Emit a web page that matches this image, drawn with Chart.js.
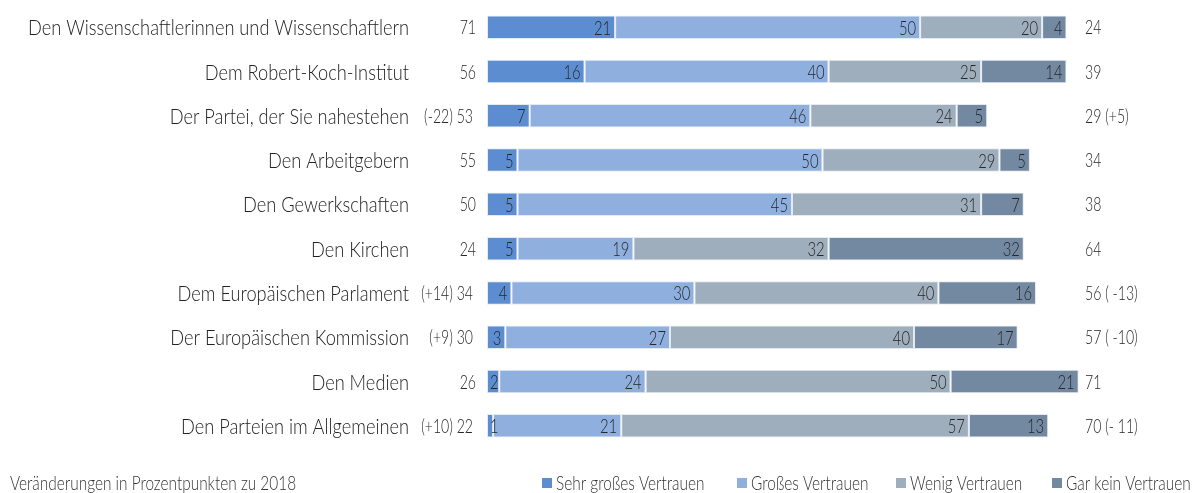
<!DOCTYPE html>
<html>
<head>
<meta charset="utf-8">
<script src="https://cdn.jsdelivr.net/npm/chart.js@4/dist/chart.umd.min.js"></script>
<style>
  html, body { margin: 0; padding: 0; background: #ffffff; }
  #wrap { width: 1197px; height: 493px; position: relative; }
</style>
</head>
<body>
<div id="wrap"><canvas id="c" width="1197" height="493"></canvas></div>
<script>
const categories = [
  "Den Wissenschaftlerinnen und Wissenschaftlern",
  "Dem Robert-Koch-Institut",
  "Der Partei, der Sie nahestehen",
  "Den Arbeitgebern",
  "Den Gewerkschaften",
  "Den Kirchen",
  "Dem Europäischen Parlament",
  "Der Europäischen Kommission",
  "Den Medien",
  "Den Parteien im Allgemeinen"
];
const seriesNames = ["Sehr großes Vertrauen", "Großes Vertrauen", "Wenig Vertrauen", "Gar kein Vertrauen"];
const sehrGross = [21, 16, 7, 5, 5, 5, 4, 3, 2, 1];
const gross     = [50, 40, 46, 50, 45, 19, 30, 27, 24, 21];
const wenig     = [20, 25, 24, 29, 31, 32, 40, 40, 50, 57];
const garKein   = [4, 14, 5, 5, 7, 32, 16, 17, 21, 13];
const leftTotals  = [71, 56, 53, 55, 50, 24, 34, 30, 26, 22];
const leftChange  = ["", "", "(-22)", "", "", "", "(+14)", "(+9)", "", "(+10)"];
const rightTotals = [24, 39, 29, 34, 38, 64, 56, 57, 71, 70];
const rightChange = ["", "", "(+5)", "", "", "", "( -13)", "( -10)", "", "(- 11)"];
const footnote = "Veränderungen in Prozentpunkten zu 2018";

const colors = ["#5d8dd1", "#8fafdf", "#9eaebd", "#7389a2"];
const FONTFAM = "Lato, 'DejaVu Sans Condensed', sans-serif";
const TXT = "#262626";

const seriesValues = [sehrGross, gross, wenig, garKein];

function font(size) { return "300 " + size + "px " + FONTFAM; }

const textPlugin = {
  id: 'textPlugin',
  afterDatasetsDraw(chart) {
    const ctx = chart.ctx;
    const xs = chart.scales.x, ys = chart.scales.y;
    ctx.save();
    function txt(t, x, y, align, sx) {
      const w = ctx.measureText(t).width * sx;
      let left = x;
      if (align === 'right') left = x - w;
      else if (align === 'center') left = x - w / 2;
      ctx.save();
      ctx.translate(left, y);
      ctx.scale(sx, 1);
      ctx.textAlign = 'left';
      ctx.textBaseline = 'middle';
      ctx.fillText(t, 0, 0);
      ctx.restore();
      return w;
    }
    const NSX = 0.74;  // narrow numerals
    const TSX = 0.77;  // footnote / legend
    // segment value labels
    ctx.font = font(20);
    ctx.fillStyle = TXT;
    categories.forEach((c, i) => {
      let cum = 0;
      const y = ys.getPixelForValue(i) + 1;
      seriesValues.forEach((vals) => {
        const v = vals[i];
        const start = xs.getPixelForValue(cum);
        cum += v;
        const end = xs.getPixelForValue(cum);
        const t = String(v);
        const w = ctx.measureText(t).width * NSX;
        const x = Math.max(end - 4, start + 3 + w);
        txt(t, x, y, 'right', NSX);
      });
    });
    // category labels
    ctx.font = font(22);
    const csx = 381 / ctx.measureText(categories[0]).width;
    ctx.fillStyle = "#222222";
    categories.forEach((c, i) => {
      txt(c, 409, ys.getPixelForValue(i) + 1, 'right', csx);
    });
    // left totals
    ctx.font = font(19);
    ctx.fillStyle = TXT;
    categories.forEach((c, i) => {
      const y = ys.getPixelForValue(i) + 1;
      if (leftChange[i]) {
        txt(leftChange[i] + " " + leftTotals[i], 473, y, 'right', NSX);
      } else {
        txt(String(leftTotals[i]), 476, y, 'right', NSX);
      }
    });
    // right totals
    categories.forEach((c, i) => {
      const y = ys.getPixelForValue(i) + 1;
      const t = rightChange[i] ? rightTotals[i] + " " + rightChange[i] : String(rightTotals[i]);
      txt(t, 1085, y, 'left', NSX);
    });
    // footnote
    ctx.font = font(20);
    ctx.fillStyle = "#333333";
    txt(footnote, 10, 484, 'left', TSX);
    // legend
    const boxX = [542, 737, 896, 1052];
    chart.data.datasets.forEach((ds, k) => {
      ctx.fillStyle = ds.backgroundColor;
      ctx.fillRect(boxX[k], 478, 10, 10);
      ctx.fillStyle = "#333333";
      ctx.font = font(20);
      txt(ds.label, boxX[k] + 14, 484, 'left', TSX);
    });
    ctx.restore();
  }
};

new Chart(document.getElementById('c'), {
  type: 'bar',
  data: {
    labels: categories,
    datasets: seriesValues.map((vals, k) => ({
      label: seriesNames[k],
      data: vals,
      backgroundColor: colors[k],
      borderColor: "#e4eaf2",
      borderWidth: 1,
      borderSkipped: false,
      barPercentage: 0.53,
      categoryPercentage: 1.0
    }))
  },
  options: {
    indexAxis: 'y',
    responsive: false,
    animation: false,
    layout: { padding: { left: 487, right: 100, top: 5, bottom: 45 } },
    plugins: { legend: { display: false }, tooltip: { enabled: false } },
    scales: {
      x: { stacked: true, min: 0, max: 100, display: false },
      y: { stacked: true, display: false }
    }
  },
  plugins: [textPlugin]
});
</script>
</body>
</html>
